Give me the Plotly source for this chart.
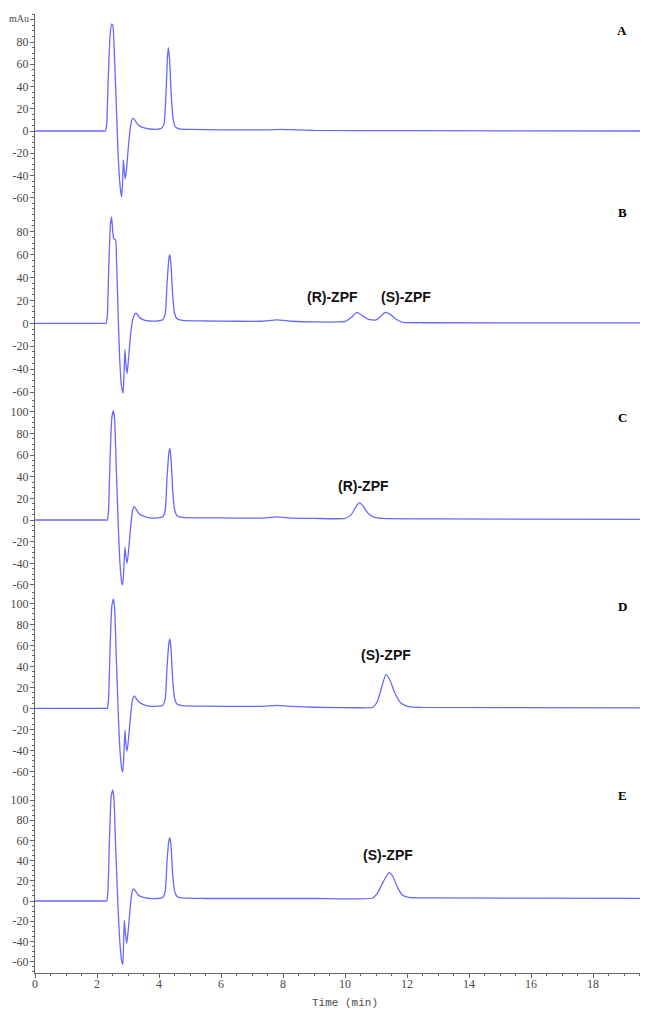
import plotly.graph_objects as go

# ---------------- data ----------------
panel_names = ["A", "B", "C", "D", "E"]

time_A = [0, 1.5, 2.1, 2.22, 2.27, 2.31, 2.36, 2.42, 2.47, 2.51, 2.56, 2.62, 2.68, 2.74, 2.79, 2.82, 2.85, 2.88, 2.91, 2.95, 3.02, 3.08, 3.14, 3.19, 3.26, 3.35, 3.5, 3.7, 3.9, 4.08, 4.16, 4.22, 4.27, 4.30, 4.34, 4.39, 4.45, 4.52, 4.65, 5.0, 6.0, 7.5, 7.9, 8.4, 9.0, 12.0, 19.8]
signal_A = [0, 0, 0, 0, 0, 5, 45, 85, 96, 95, 70, 25, -20, -48, -59, -50, -26, -36, -43, -35, -12, 4, 11, 11, 8, 5, 3, 1.8, 1.5, 2.5, 6, 30, 65, 75, 65, 35, 12, 4, 2, 1.5, 1, 1, 1.5, 1, 0.5, 0.3, 0]

time_B = [0, 1.5, 2.1, 2.24, 2.29, 2.33, 2.38, 2.43, 2.47, 2.51, 2.54, 2.60, 2.63, 2.68, 2.73, 2.79, 2.84, 2.87, 2.90, 2.93, 2.97, 3.02, 3.09, 3.16, 3.23, 3.28, 3.36, 3.5, 3.7, 3.95, 4.12, 4.20, 4.26, 4.32, 4.35, 4.39, 4.44, 4.50, 4.58, 4.75, 5.5, 6.5, 7.3, 7.8, 8.3, 9.0, 9.8, 10.0, 10.2, 10.38, 10.55, 10.75, 11.0, 11.15, 11.29, 11.45, 11.65, 11.88, 12.5, 19.8]
signal_B = [0, 0, 0, 0, 0, 5, 50, 85, 93, 80, 74, 73, 55, 10, -30, -55, -61, -45, -23, -35, -44, -30, -8, 4, 8.5, 8.5, 5.5, 3, 2, 2, 3, 8, 35, 57, 60, 50, 25, 9, 4, 2.5, 2, 1.8, 1.8, 3, 1.8, 1.2, 1.2, 1.6, 5, 9.6, 7, 3.5, 2.9, 6, 9.6, 8, 3.5, 0.8, 0.5, 0.3]

time_C = [0, 1.5, 2.1, 2.28, 2.33, 2.37, 2.42, 2.48, 2.53, 2.57, 2.62, 2.68, 2.74, 2.80, 2.83, 2.87, 2.90, 2.93, 2.97, 3.02, 3.09, 3.15, 3.20, 3.26, 3.35, 3.5, 3.7, 3.95, 4.12, 4.20, 4.26, 4.32, 4.35, 4.39, 4.44, 4.50, 4.58, 4.75, 5.5, 6.5, 7.3, 7.8, 8.3, 9.0, 10.0, 10.2, 10.35, 10.46, 10.58, 10.75, 10.95, 11.2, 13.0, 19.8]
signal_C = [0, 0, 0, 0, 0, 8, 55, 95, 101, 92, 50, 0, -40, -58, -60, -42, -25, -33, -40, -28, -5, 9, 12.3, 10, 6, 3.5, 2, 2, 3, 9, 40, 62, 66, 56, 28, 10, 4, 2.5, 2, 1.8, 1.8, 2.8, 1.8, 1.5, 1.5, 5, 12, 16, 13, 6, 2.5, 1.5, 1, 0.5]

time_D = [0, 1.5, 2.1, 2.28, 2.33, 2.37, 2.42, 2.48, 2.53, 2.57, 2.62, 2.68, 2.74, 2.80, 2.83, 2.87, 2.90, 2.93, 2.97, 3.02, 3.09, 3.15, 3.20, 3.26, 3.35, 3.5, 3.7, 3.95, 4.12, 4.20, 4.26, 4.32, 4.35, 4.39, 4.44, 4.50, 4.58, 4.75, 5.5, 6.5, 7.3, 7.8, 8.3, 9.0, 10.5, 10.9, 11.05, 11.2, 11.32, 11.45, 11.6, 11.8, 12.05, 12.5, 19.8]
signal_D = [0, 0, 0, 0, 0, 8, 55, 98, 104, 95, 50, 0, -40, -58, -61, -42, -21, -33, -41, -28, -5, 9, 11.7, 9.5, 6, 3.5, 2, 2, 3, 9, 40, 62, 66, 56, 28, 10, 4, 2.5, 2, 1.8, 1.8, 2.8, 1.8, 1, 0.5, 1, 7, 22, 32, 27, 15, 5, 1.5, 0.8, 0.3]

time_E = [0, 1.5, 2.1, 2.26, 2.31, 2.35, 2.40, 2.46, 2.51, 2.55, 2.60, 2.67, 2.74, 2.80, 2.83, 2.86, 2.88, 2.92, 2.96, 3.01, 3.08, 3.13, 3.17, 3.24, 3.33, 3.5, 3.7, 3.95, 4.12, 4.20, 4.26, 4.32, 4.35, 4.39, 4.44, 4.50, 4.58, 4.75, 5.5, 7.5, 9.0, 10.9, 11.05, 11.25, 11.42, 11.55, 11.7, 11.85, 12.05, 12.5, 19.8]
signal_E = [0, 0, 0, 0, 0, 8, 60, 104, 110, 100, 55, 0, -42, -60, -63, -40, -19, -33, -42, -28, -4, 9, 12, 10, 6, 3.5, 2.5, 2.5, 3.5, 9, 40, 60, 63, 54, 27, 10, 4.5, 3, 2.5, 2.5, 2.5, 3, 8, 20, 28, 24, 13, 6, 3.5, 3, 2.5]

times = [time_A, time_B, time_C, time_D, time_E]
signals = [signal_A, signal_B, signal_C, signal_D, signal_E]

x_tick_vals = [0, 2, 4, 6, 8, 10, 12, 14, 16, 18]
y_tick_vals = [
    [-60, -40, -20, 0, 20, 40, 60, 80, 100],
    [-60, -40, -20, 0, 20, 40, 60, 80],
    [-60, -40, -20, 0, 20, 40, 60, 80, 100],
    [-60, -40, -20, 0, 20, 40, 60, 80, 100],
    [-60, -40, -20, 0, 20, 40, 60, 80, 100],
]
y_tick_text = [
    ["-60", "-40", "-20", "0", "20", "40", "60", "80", ""],
    ["-60", "-40", "-20", "0", "20", "40", "60", "80"],
    ["-60", "-40", "-20", "0", "20", "40", "60", "80", "100"],
    ["-60", "-40", "-20", "0", "20", "40", "60", "80", "100"],
    ["-60", "-40", "-20", "0", "20", "40", "60", "80", "100"],
]
y_unit = "mAu"
x_title = "Time (min)"
peak_labels = [("B", "(R)-ZPF"), ("B", "(S)-ZPF"), ("C", "(R)-ZPF"), ("D", "(S)-ZPF"), ("E", "(S)-ZPF")]

# ---------------- layout geometry (page pixels) ----------------
OFF = 8                      # page body margin around the figure
PAGE_W, PAGE_H = 648, 1011
W, H = PAGE_W - OFF, PAGE_H - OFF
X0_PAGE, XAXIS_PAGE = 35, 973   # page positions of the y-axis line and x-axis line
ML = X0_PAGE - OFF
MB = H - (XAXIS_PAGE - OFF)
MT, MR = 0, 0
plot_h = H - MT - MB
plot_w = W - ML - MR
PX_PER_MIN = 31.0

def py(y_page):
    return (XAXIS_PAGE - y_page) / plot_h

def px(x_page):
    return (x_page - X0_PAGE) / plot_w

# panel: top, bottom, zero (page px), px per unit
panels = [
    (14, 205, 131, 1.1125),
    (205, 396, 323.3, 1.145),
    (396, 590, 520, 1.083),
    (590, 781, 708.3, 1.05),
    (781, 973, 901, 1.01),
]

line_color = "rgb(105,105,255)"
axis_color = "#666666"
tick_font = dict(family="Liberation Serif", size=12, color="#4a4a4a")

fig = go.Figure()
layout = dict(
    width=W, height=H,
    margin=dict(l=ML, r=MR, t=MT, b=MB, autoexpand=False),
    paper_bgcolor="white", plot_bgcolor="white",
    showlegend=False,
)

for i in range(5):
    yname = "y" if i == 0 else f"y{i+1}"
    fig.add_trace(go.Scatter(
        x=times[i], y=signals[i], mode="lines",
        line=dict(color=line_color, width=1.3, shape="spline", smoothing=0.5),
        xaxis="x", yaxis=yname, hoverinfo="skip",
    ))
    top, bot, zero, sc = panels[i]
    yr = [(zero - bot) / sc, (zero - top) / sc]
    key = "yaxis" if i == 0 else f"yaxis{i+1}"
    layout[key] = dict(
        domain=[max(0, py(bot)), min(1, py(top))],
        range=yr, anchor="x", automargin=False,
        showgrid=False, zeroline=False,
        showline=True, linecolor=axis_color, linewidth=1,
        ticks="outside", ticklen=4, tickcolor=axis_color, tickwidth=1,
        tickvals=y_tick_vals[i], ticktext=y_tick_text[i],
        tickfont=tick_font, ticklabelstandoff=-1,
        minor=dict(dtick=5, ticks="outside", ticklen=2, tickcolor=axis_color, showgrid=False),
    )

layout["xaxis"] = dict(
    domain=[0, 1], range=[0, (PAGE_W - X0_PAGE) / PX_PER_MIN], anchor="y5", automargin=False,
    showgrid=False, zeroline=False,
    showline=True, linecolor=axis_color, linewidth=1,
    ticks="outside", ticklen=4, tickcolor=axis_color,
    tickvals=x_tick_vals, tickfont=tick_font, ticklabelstandoff=-4,
    minor=dict(dtick=0.5, ticks="outside", ticklen=2, tickcolor=axis_color, showgrid=False),
)
fig.update_layout(**layout)

def note(text, xp, yp, font):
    fig.add_annotation(text=text, x=px(xp), y=py(yp), xref="paper", yref="paper",
                       xanchor="center", yanchor="middle", showarrow=False, font=font)

# y unit label in place of top tick of panel A
note(y_unit, 19, 18, dict(family="Liberation Serif", size=10, color="#4a4a4a"))

# x-axis title
note(x_title, 345, 1003, dict(family="Liberation Mono", size=11, color="#4a4a4a"))

# panel letters
letter_y = [31, 213, 418, 607, 795]
for name, yy in zip(panel_names, letter_y):
    note(f"<b>{name}</b>", 622, yy, dict(family="Liberation Serif", size=13, color="black"))

# peak labels
label_pos = [(332, 297), (406, 297), (363, 486), (386, 655), (388, 855)]
for (panel, txt), (lx, ly) in zip(peak_labels, label_pos):
    note(f"<b>{txt}</b>", lx, ly, dict(family="Liberation Sans", size=14, color="#111111"))

fig.write_html("out.html")
